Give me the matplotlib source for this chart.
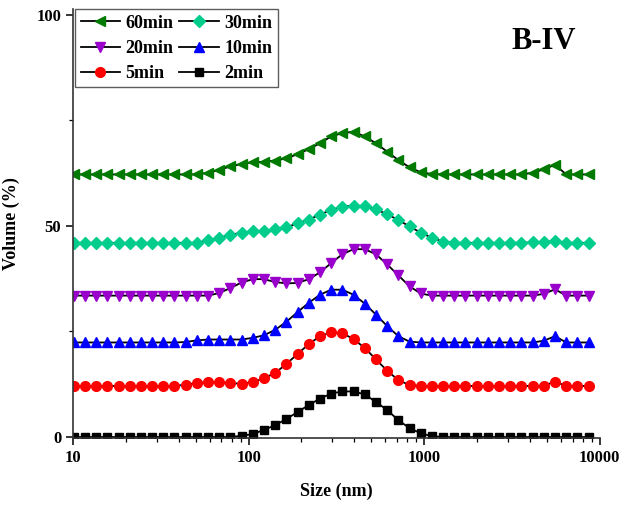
import matplotlib
matplotlib.use("Agg")
import matplotlib.pyplot as plt
from matplotlib.ticker import FixedLocator, NullFormatter

plt.rcParams['font.family'] = ['Liberation Serif', 'DejaVu Serif']
plt.rcParams['font.weight'] = 'bold'
plt.rcParams['axes.labelweight'] = 'bold'

# size classes (nm)
size = [10.10, 11.70, 13.54, 15.69, 18.17, 21.04, 24.36, 28.21, 32.67, 37.84,
        43.82, 50.75, 58.77, 68.06, 78.82, 91.28, 105.7, 122.4, 141.8, 164.2,
        190.1, 220.2, 255.0, 295.3, 342.0, 396.1, 458.7, 531.2, 615.1, 712.4,
        825.0, 955.4, 1106, 1281, 1484, 1718, 1990, 2305, 2669, 3091,
        3580, 4145, 4801, 5560, 6439, 7456, 8635]

# volume curves, stacked with offsets
v2 = [0.0] * 15 + [0.3, 0.7, 1.7, 2.8, 4.3, 5.9, 7.6, 9.1, 10.3, 10.8,
                   10.8, 10.1, 8.3, 6.4, 4.0, 2.1, 0.9, 0.2] + [0.0] * 14
v5 = [12.1] * 10 + [12.4, 12.8, 13.0, 13.0, 12.8, 12.6, 13.0, 13.9, 15.2, 17.3,
                    19.7, 22.0, 23.9, 24.8, 24.6, 23.2, 21.1, 18.4, 15.7, 13.5,
                    12.3] + [12.1] * 11 + [12.2, 13.1] + [12.1] * 3
v10 = [22.4] * 10 + [22.5, 22.9, 23.1, 23.1, 23.1, 23.1, 23.5, 24.1, 25.4, 27.3,
                     29.6, 31.8, 33.7, 34.9, 34.9, 33.7, 31.6, 29.0, 26.3, 23.9,
                     22.6] + [22.4] * 11 + [22.8, 23.9] + [22.4] * 3
v20 = [33.5] * 13 + [34.1, 35.3, 36.6, 37.4, 37.4, 36.7, 36.4, 36.5, 37.4, 39.0,
                     41.2, 43.3, 44.5, 44.5, 43.3, 40.9, 38.3, 35.7, 34.0] \
    + [33.5] * 10 + [33.9, 35.0] + [33.5] * 3
v30 = [46.0] * 12 + [46.6, 47.2, 47.9, 48.4, 48.7, 48.9, 49.2, 49.7, 50.6, 51.5,
                     52.7, 53.8, 54.6, 54.8, 54.7, 53.9, 52.8, 51.4, 49.9, 48.4,
                     47.2, 46.3] + [46.0] * 7 + [46.1, 46.2, 46.4] + [46.0] * 3
v60 = [62.2] * 12 + [62.6, 63.3, 64.1, 64.7, 65.1, 65.2, 65.5, 66.0, 67.0, 68.2,
                     69.6, 71.2, 72.0, 72.3, 71.2, 69.6, 67.6, 65.6, 63.9, 62.7,
                     62.3] + [62.2] * 8 + [62.6, 63.4, 64.5] + [62.2] * 3

fig = plt.figure(figsize=(6.32, 5.07), dpi=100)
ax = fig.add_axes([0.1155, 0.1355, 0.8335, 0.846])

series = [
    ('60min', v60, '<', '#007A00', 7.8),
    ('20min', v20, 'v', '#9900CC', 7.8),
    ('5min', v5, 'o', '#FF0000', 7.0),
    ('30min', v30, 'D', '#00CC8C', 6.5),
    ('10min', v10, '^', '#0000FF', 7.8),
    ('2min', v2, 's', '#000000', 6.0),
]
for label, vals, mk, col, ms in series:
    ax.plot(size, vals, color='black', lw=1.3, marker=mk, ms=ms,
            mfc=col, mec=col, label=label)

ax.set_xscale('log')
ax.set_xlim(10, 10000)
ax.set_ylim(-0.3, 101.3)
ax.set_xticks([10, 100, 1000, 10000])
ax.set_xticklabels(['10', '100', '1000', '10000'])
ax.xaxis.set_minor_formatter(NullFormatter())
ax.set_yticks([0, 50, 100])
ax.yaxis.set_minor_locator(FixedLocator([25, 75]))

for s in ['top', 'right']:
    ax.spines[s].set_visible(False)
for s in ['left', 'bottom']:
    ax.spines[s].set_linewidth(1.2)
    ax.spines[s].set_color('#333333')
ax.tick_params(which='major', direction='out', length=5, width=1.1, labelsize=12)
ax.tick_params(which='minor', direction='out', length=3, width=0.9)

ax.set_xlabel('Size (nm)', fontsize=13, labelpad=12)
ax.set_ylabel('Volume (%)', fontsize=13, labelpad=12)

ax.text(0.893, 0.924, 'B-IV', transform=ax.transAxes, fontsize=22,
        fontweight='bold', ha='center', va='center')

leg = ax.legend(loc='upper left', bbox_to_anchor=(0.004, 1.0), ncol=2,
                fontsize=13, frameon=True, fancybox=False, borderaxespad=0,
                handlelength=2.2, handletextpad=0.3, columnspacing=0.3,
                labelspacing=0.45, borderpad=0.3)
leg.get_frame().set_edgecolor('#333333')
leg.get_frame().set_linewidth(1.0)

fig.savefig('out.png', dpi=100)
